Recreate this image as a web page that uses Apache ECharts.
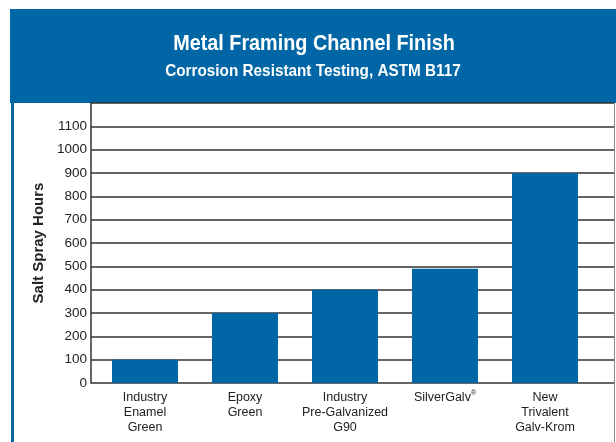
<!DOCTYPE html>
<html>
<head>
<meta charset="utf-8">
<script src="https://cdn.jsdelivr.net/npm/echarts@6/dist/echarts.min.js"></script>
<style>
  html, body { margin: 0; padding: 0; background: #ffffff; }
  #chart { width: 616px; height: 442px; }
</style>
</head>
<body>
<div id="chart"></div>
<script>
// chart data
const categories = ['Industry\nEnamel\nGreen', 'Epoxy\nGreen', 'Industry\nPre-Galvanized\nG90', 'SilverGalv®', 'New\nTrivalent\nGalv-Krom'];
const saltSprayHours = [100, 300, 400, 490, 900];
const yTicks = [0, 100, 200, 300, 400, 500, 600, 700, 800, 900, 1000, 1100];

const blue = '#0066a6';
const font = "'Liberation Sans', Arial, sans-serif";

const chart = echarts.init(document.getElementById('chart'));

chart.setOption({
  animation: false,
  backgroundColor: '#ffffff',
  graphic: [
    { type: 'rect', z: -1, shape: { x: 10, y: 9, width: 606, height: 94 }, style: { fill: blue } },
    { type: 'rect', z: -1, shape: { x: 11, y: 103, width: 3, height: 339 }, style: { fill: blue } },
    { type: 'line', z: -1, shape: { x1: 614.5, y1: 103, x2: 614.5, y2: 442 }, style: { stroke: '#888', lineWidth: 1 } },
    {
      type: 'text', x: 314, y: 44, scaleX: 0.9,
      style: { text: 'Metal Framing Channel Finish', fill: '#fff', font: 'bold 22px ' + font, textAlign: 'center', textVerticalAlign: 'middle' }
    },
    {
      type: 'text', x: 313, y: 71, scaleX: 0.9,
      style: { text: 'Corrosion Resistant Testing, ASTM B117', fill: '#fff', font: 'bold 17px ' + font, textAlign: 'center', textVerticalAlign: 'middle' }
    }
  ],
  grid: [
    { left: 91, right: 2, top: 103, bottom: 59 },
    { left: 95, width: 500, top: 103, bottom: 59 }
  ],
  xAxis: [
    { gridIndex: 0, type: 'value', show: false },
    {
      gridIndex: 1, type: 'category', data: categories,
      axisLine: { show: false }, axisTick: { show: false },
      axisLabel: {
        interval: 0, margin: 7, color: '#222', fontFamily: font, fontSize: 12.5, lineHeight: 15,
        formatter: v => v.replace('®', '{sup|®}'),
        rich: { sup: { fontSize: 7, verticalAlign: 'top', padding: [0, 0, 5, 0], color: '#222', fontFamily: font } }
      }
    }
  ],
  yAxis: [
    {
      gridIndex: 0, type: 'value', min: 0, max: 1200, interval: 100,
      name: 'Salt Spray Hours', nameLocation: 'middle', nameGap: 45, nameRotate: 90,
      nameTextStyle: { color: '#222', fontFamily: font, fontSize: 15, fontWeight: 'bold' },
      axisLine: { show: true, lineStyle: { color: '#333', width: 1.5 } },
      axisTick: { show: false },
      axisLabel: {
        margin: 4, color: '#222', fontFamily: font, fontSize: 13.5,
        formatter: v => (yTicks.indexOf(v) >= 0 ? String(v) : '')
      },
      splitLine: { lineStyle: { color: '#333', width: 1.5 } }
    },
    { gridIndex: 1, type: 'value', min: 0, max: 1200, interval: 100, show: false }
  ],
  series: [
    {
      type: 'bar', xAxisIndex: 1, yAxisIndex: 1,
      data: saltSprayHours, barWidth: 66,
      itemStyle: { color: blue }
    }
  ]
});
</script>
</body>
</html>
